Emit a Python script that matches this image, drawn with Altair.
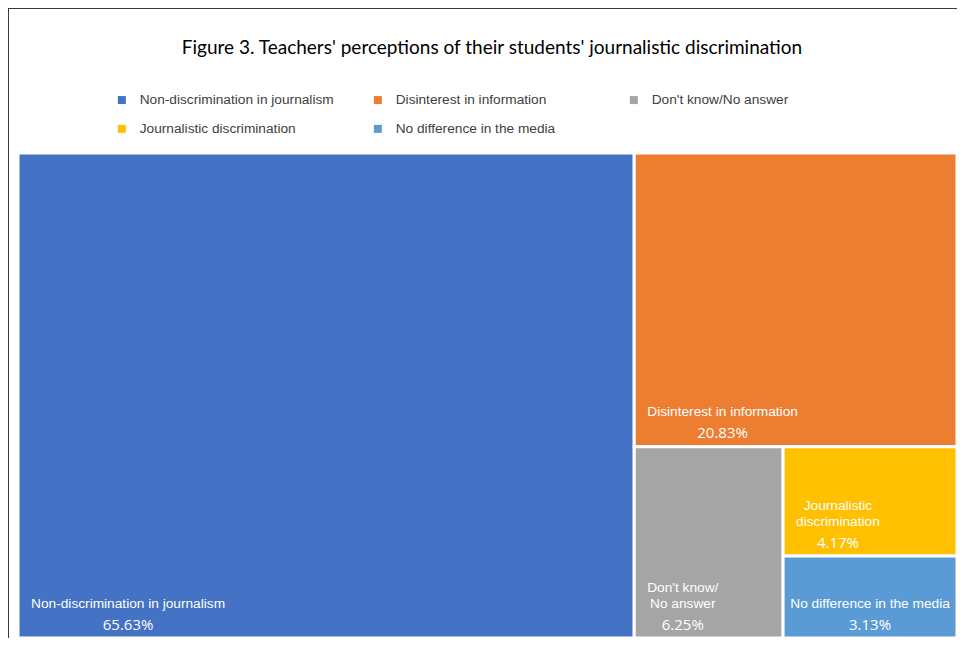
import altair as alt
import pandas as pd

categories = ["Non-discrimination in journalism", "Disinterest in information",
              "Don't know/No answer", "Journalistic discrimination", "No difference in the media"]
values = [65.63, 20.83, 6.25, 4.17, 3.13]
colors = ["#4472C4", "#ED7D31", "#A5A5A5", "#FFC000", "#5B9BD5"]
cell_labels = ["Non-discrimination in journalism", "Disinterest in information",
               "Don't know/\nNo answer", "Journalistic\ndiscrimination", "No difference in the media"]
pct_labels = ["65.63%", "20.83%", "6.25%", "4.17%", "3.13%"]
title_text = ["Figure 3. Teachers' perceptions of their students' journalistic discrimination"]

W, H = 939, 485
LABEL_FS = 13.7
LINE_H = 16

# Arial-like advance widths (per 1000 em) to centre label blocks
_adv = dict(zip("abcdefghijklmnopqrstuvwxyz",
                [556, 556, 500, 556, 556, 278, 556, 556, 222, 222, 500, 222, 833,
                 556, 556, 556, 556, 333, 500, 278, 556, 500, 722, 500, 500, 500]))
_adv.update(dict(zip("ABCDEFGHIJKLMNOPQRSTUVWXYZ",
                     [667, 667, 722, 722, 667, 611, 778, 722, 278, 500, 667, 556, 833,
                      722, 778, 667, 778, 722, 667, 611, 722, 667, 944, 667, 667, 611])))
_adv.update({" ": 278, "-": 333, "'": 191, "/": 278, ".": 278, "%": 889})


def text_w(s, fs):
    return max(sum(_adv.get(c, 556) for c in line) for line in s.split("\n")) * fs / 1000


def slice_layout(vals, x0, y0, x1, y1):
    rects = []
    total = sum(vals)
    for v in vals:
        w, h = x1 - x0, y1 - y0
        frac = v / total
        if w >= h:
            xm = x0 + w * frac
            rects.append((x0, y0, xm, y1))
            x0 = xm
        else:
            ym = y0 + h * frac
            rects.append((x0, y0, x1, ym))
            y0 = ym
        total -= v
    return rects


rects = slice_layout(values, 0, 0, W, H)
rows = []
for cat, v, lab, pct, (x0, y0, x1, y1) in zip(categories, values, cell_labels, pct_labels, rects):
    bw = text_w(lab, LABEL_FS)
    pad = min(13, max(2, (x1 - x0 - bw) / 2))
    nlines = len(lab.split("\n"))
    rows.append(dict(cat=cat, value=v, x0=x0, y0=y0, x1=x1, y1=y1,
                     label=lab.split("\n"), pct=pct,
                     cx=x0 + pad + bw / 2,
                     ny=y1 - 27.5 - (nlines - 1) * LINE_H,
                     py=y1 - 13.5))
df = pd.DataFrame(rows)

xs = alt.Scale(domain=[0, W], range=[0, W])
ys = alt.Scale(domain=[0, H], range=[0, H])

color = alt.Color("cat:N", scale=alt.Scale(domain=categories, range=colors),
                  legend=alt.Legend(title=None, orient="none", legendX=97, legendY=-60,
                                    columns=3, direction="horizontal", gridAlign="all",
                                    symbolType="square", symbolSize=64, symbolStrokeWidth=0,
                                    labelFont="Liberation Sans", labelFontSize=LABEL_FS,
                                    labelColor="#404040", labelLimit=400, labelOffset=11,
                                    columnPadding=37, rowPadding=14, padding=0))

base = alt.Chart(df)
cells = base.mark_rect(stroke="white", strokeWidth=3).encode(
    x=alt.X("x0:Q", scale=xs, axis=None), x2="x1:Q",
    y=alt.Y("y0:Q", scale=ys, axis=None), y2="y1:Q",
    color=color)

names = base.mark_text(color="white", font="Liberation Sans", fontSize=LABEL_FS,
                       align="center", baseline="bottom", lineHeight=LINE_H).encode(
    x=alt.X("cx:Q", scale=xs), y=alt.Y("ny:Q", scale=ys), text="label")

pcts = base.mark_text(color="white", font="Open Sans", fontSize=15,
                      align="center", baseline="middle").encode(
    x=alt.X("cx:Q", scale=xs), y=alt.Y("py:Q", scale=ys), text="pct:N")

title_df = pd.DataFrame({"t": title_text})
title = alt.Chart(title_df).mark_text(font="Lato", fontSize=19, color="black",
                                      align="center", baseline="middle").encode(
    x=alt.value(474), y=alt.value(-105), text="t:N")

frame_df = pd.DataFrame({"k": [0]})
top_line = alt.Chart(frame_df).mark_rule(color="#3a3a3a", strokeWidth=1).encode(
    x=alt.value(-9.5), x2=alt.value(W + 20), y=alt.value(-144.5))
left_line = alt.Chart(frame_df).mark_rule(color="#3a3a3a", strokeWidth=1).encode(
    x=alt.value(-9.5), y=alt.value(-145), y2=alt.value(H + 10))

chart = alt.layer(cells, names, pcts, title, top_line, left_line).properties(
    width=W, height=H, autosize="none",
    padding={"left": 10, "top": 145, "right": 0, "bottom": 0},
).configure_view(strokeWidth=0)

chart.save("out.html", embed_options={"renderer": "svg", "actions": False})
